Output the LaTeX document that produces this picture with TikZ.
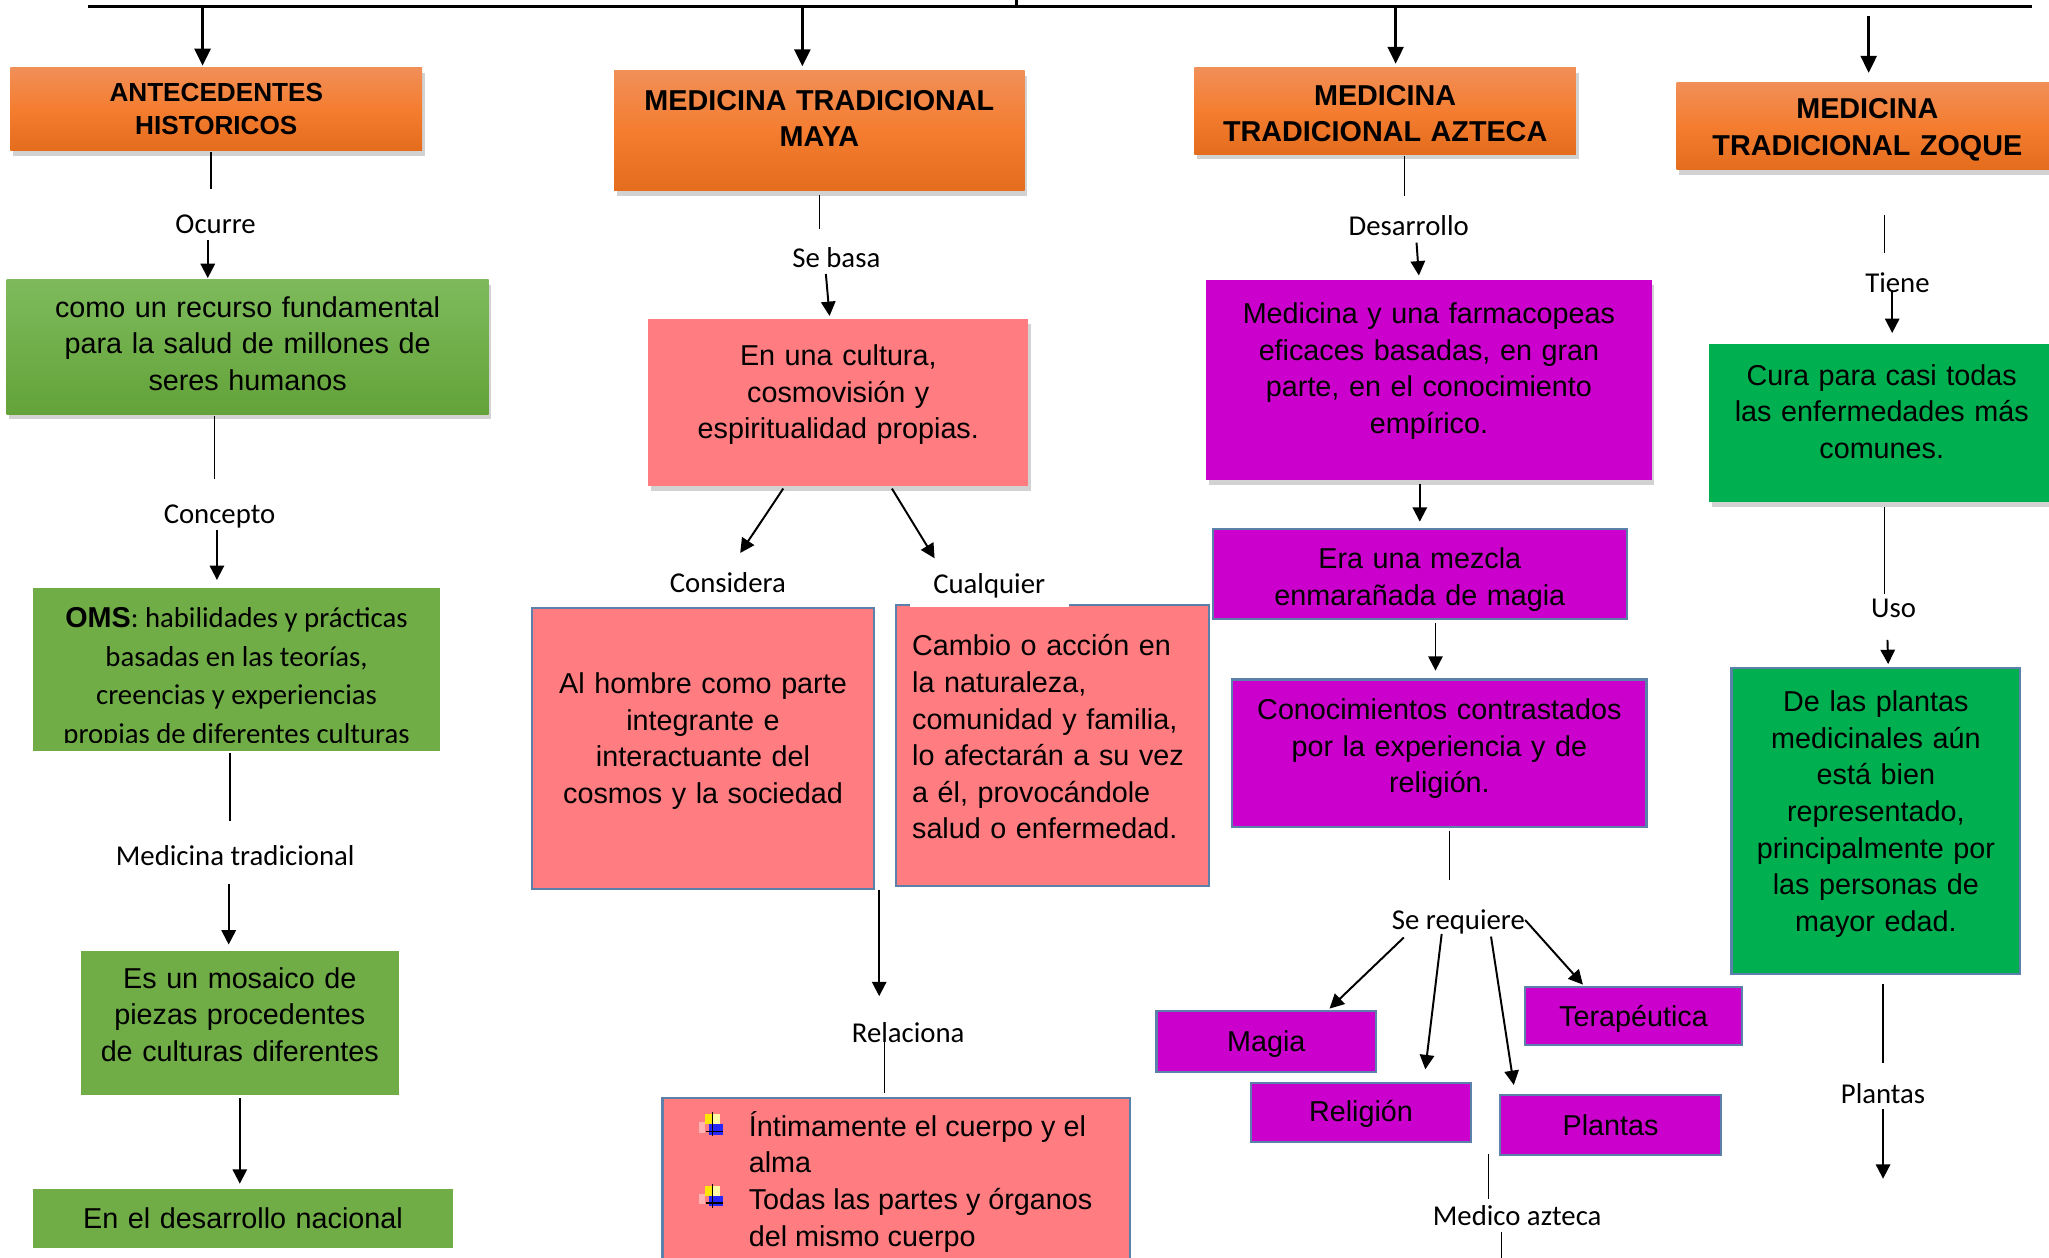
\documentclass[tikz,border=0pt]{standalone}
\usepackage{fontspec}
\setmainfont{Liberation Sans}
\newfontfamily\calibri{Carlito}
\usepackage{array}
\usetikzlibrary{arrows.meta,shadows}

\definecolor{naranjaA}{HTML}{F18F58}
\definecolor{naranjaB}{HTML}{F47D30}
\definecolor{naranjaC}{HTML}{E46C1D}
\definecolor{verdeA}{HTML}{7EBA5C}
\definecolor{verdeB}{HTML}{63A339}
\definecolor{verde}{HTML}{70AD47}
\definecolor{verdeZ}{HTML}{00B050}
\definecolor{rosa}{HTML}{FF7C80}
\definecolor{morado}{HTML}{CC00CC}
\definecolor{azulB}{HTML}{5B80AA}

\tikzset{
	vineta/.pic={
		\fill[red!30!white] (0,7.5) rectangle (4.5,15.5);
		\fill[yellow!90!orange] (4.5,1.5) rectangle (10,9);
		\fill[yellow!35] (10,1.5) rectangle (15.5,9);
		\fill[blue!85!white] (7,9) rectangle (18,17);
		\draw[line width=1.1pt] (10,0) -- (10,18) (5,14.5) -- (18,14.5);
	}
}

\begin{document}
\begin{tikzpicture}[x=1pt, y=-1pt,
	caja/.style={rectangle, inner sep=0pt, align=center, font=\fontsize{22}{28}\selectfont},
	sombra/.style={drop shadow={shadow xshift=2pt, shadow yshift=-4pt, opacity=0.35}},
	titulo/.style={caja, sombra, top color=naranjaA, bottom color=naranjaC, middle color=naranjaB,
		font=\bfseries\fontsize{22}{28}\selectfont},
	borde/.style={draw=azulB, line width=1.6pt},
	etiqueta/.style={font=\calibri\fontsize{22}{26}\selectfont, inner sep=0pt, text height=16pt, text depth=5pt},
	flecha/.style={-{Triangle[length=11pt,width=11pt]}, line width=1.5pt},
	flechaG/.style={-{Triangle[length=13pt,width=12pt]}, line width=2.5pt},
	linea/.style={line width=0.9pt},
	lift/.style={execute at end node={\endgraf\vspace*{#1}}}
	]
	\useasboundingbox (0,0) rectangle (1568,962);
	\clip (0,0) rectangle (1568,962);
	\fill[white] (0,0) rectangle (1568,962);

	% barra superior
	\coordinate (tIzq) at (67,5);
	\coordinate (tDer) at (1555,5);
	\coordinate (tMed) at (778,5);
	\coordinate (tSup) at (778,0);
	\draw[line width=3pt] (tIzq) -- (tDer);
	\draw[line width=2pt] (tMed) -- (tSup);

	% titulos
	\node[titulo, font=\bfseries\fontsize{20}{25}\selectfont, minimum width=315pt, minimum height=63pt, text width=305pt] (hAnte) at (165.5,83.5) {ANTECEDENTES\\HISTORICOS};
	\node[titulo, minimum width=314pt, minimum height=92pt, text width=304pt, lift=19pt] (hMaya) at (627,100) {MEDICINA TRADICIONAL\\MAYA};
	\node[titulo, minimum width=292pt, minimum height=66pt, text width=282pt, lift=-4pt] (hAzt) at (1060,85) {MEDICINA\\TRADICIONAL AZTECA};
	\node[titulo, minimum width=292pt, minimum height=67pt, text width=282pt, lift=-6pt] (hZoq) at (1429,96.5) {MEDICINA\\TRADICIONAL ZOQUE};

	\coordinate (t1) at (155,5);
	\coordinate (t2) at (614,5);
	\coordinate (t3) at (1068,5);
	\coordinate (t4) at (1430,12);
	\draw[flechaG, shorten >=1.5pt] (t1) -- (t1 |- hAnte.north);
	\draw[flechaG, shorten >=3pt] (t2) -- (t2 |- hMaya.north);
	\draw[flechaG, shorten >=3pt] (t3) -- (t3 |- hAzt.north);
	\draw[flechaG, shorten >=7pt] (t4) -- (t4 |- hZoq.north);

	% columna antecedentes
	\node[caja, sombra, top color=verdeA, bottom color=verdeB, minimum width=369pt, minimum height=103pt, text width=359pt, lift=5pt] (gRec) at (189.5,265.5) {como un recurso fundamental\\para la salud de millones de\\seres humanos};
	\node[caja, fill=verde, minimum width=312pt, minimum height=125pt,
		path picture={
			\clip (path picture bounding box.north west) rectangle ([yshift=7pt]path picture bounding box.south east);
			\node[fill=none, draw=none, inner sep=0pt, align=center, font=\calibri\fontsize{22}{29.5}\selectfont]
			at ([yshift=-6pt]path picture bounding box.center) {{\rmfamily\bfseries OMS}: habilidades y prácticas\\basadas en las teorías,\\creencias y experiencias\\propias de diferentes culturas};}] (gOms) at (181,512.5) {};
	\node[caja, fill=verde, minimum width=243pt, minimum height=110pt, text width=235pt, lift=13pt] (gMos) at (183.5,783) {Es un mosaico de\\piezas procedentes\\de culturas diferentes};
	\node[caja, fill=verde, minimum width=322pt, minimum height=45pt, text width=312pt] (gNac) at (186,932.5) {En el desarrollo nacional};

	\node[etiqueta] (lOcurre) at (165,173) {Ocurre};
	\node[etiqueta] (lConcepto) at (168,395) {Concepto};
	\node[etiqueta] (lMedTrad) at (180,657) {Medicina tradicional};

	\draw[linea, shorten <=1pt, shorten >=18pt] ([xshift=-4pt]hAnte.south) -- ([xshift=-4pt]hAnte.south |- lOcurre.north);
	\draw[flecha, shorten >=1pt] ([xshift=-6pt]lOcurre.south) -- ([xshift=-6pt]lOcurre.south |- gRec.north);
	\draw[linea, shorten <=1pt, shorten >=18pt] ([xshift=-4pt]lConcepto.north |- gRec.south) -- ([xshift=-4pt]lConcepto.north);
	\draw[flecha, shorten >=6pt] ([xshift=-2pt]lConcepto.south) -- ([xshift=-2pt]lConcepto.south |- gOms.north);
	\draw[linea, shorten <=1pt, shorten >=18pt] ([xshift=-4pt]lMedTrad.north |- gOms.south) -- ([xshift=-4pt]lMedTrad.north);
	\draw[flecha, shorten <=9pt, shorten >=5pt] ([xshift=-5pt]lMedTrad.south) -- ([xshift=-5pt]lMedTrad.south |- gMos.north);
	\draw[flecha, shorten <=2pt, shorten >=4pt] (gMos.south) -- (gMos.south |- gNac.north);

	% columna maya
	\node[caja, sombra, fill=rosa, minimum width=291pt, minimum height=128pt, text width=281pt, lift=12pt] (pCult) at (641.5,308) {En una cultura,\\cosmovisión y\\espiritualidad propias.};
	\node[caja, fill=rosa, borde, minimum width=262pt, minimum height=215pt, text width=252pt, lift=11pt] (pHom) at (538,572.5) {Al hombre como parte\\integrante e\\interactuante del\\cosmos y la sociedad};
	\node[caja, fill=rosa, borde, align=left, minimum width=239pt, minimum height=215pt, text width=215pt, lift=13pt] (pCamb) at (805.5,570.5) {Cambio o acción en\\la naturaleza,\\comunidad y familia,\\lo afectarán a su vez\\a él, provocándole\\salud o enfermedad.};
	\node[rectangle, inner sep=0pt, fill=rosa, borde, font=\fontsize{22}{28}\selectfont, minimum width=358pt, minimum height=132pt] (pCuer) at (686,906)
		{\begin{tabular}{@{\hspace{54pt}}>{\raggedright\arraybackslash}p{280pt}@{}}Íntimamente el cuerpo y el alma\\Todas las partes y órganos del mismo cuerpo\end{tabular}};
	\pic at ([shift={(29,12)}]pCuer.north west) {vineta};
	\pic at ([shift={(29,67)}]pCuer.north west) {vineta};

	\node[etiqueta] (lBasa) at (640,199) {Se basa};
	\node[etiqueta] (lConsidera) at (557,448) {Considera};
	\node[etiqueta, fill=white, inner xsep=18pt, inner ysep=0pt, text depth=10pt] (lCual) at (757,451.5) {Cualquier};
	\node[etiqueta] (lRel) at (695,792) {Relaciona};

	\draw[linea, shorten <=3pt, shorten >=13pt] (hMaya.south) -- (hMaya.south |- lBasa.north);
	\draw[flecha, shorten >=2pt] ([xshift=-8pt]lBasa.south) -- ([xshift=-5pt]lBasa.south |- pCult.north);
	\draw[flecha, shorten <=2pt, shorten >=17pt] ([xshift=-41pt]pCult.south) -- (lConsidera.north);
	\draw[flecha, shorten <=2pt, shorten >=13pt] ([xshift=40pt]pCult.south) -- ([xshift=-35pt]lCual.north);
	\draw[flecha, shorten >=19pt] ([xshift=3pt]pHom.south east) -- ([xshift=3pt]pHom.south east |- lRel.north);
	\draw[linea, shorten >=3pt] ([xshift=-18pt]lRel.center) -- ([xshift=-18pt]lRel.center |- pCuer.north);

	% columna azteca
	\node[caja, sombra, fill=morado, minimum width=341pt, minimum height=153pt, text width=331pt, lift=13pt] (mFarm) at (1093.5,290.5) {Medicina y una farmacopeas\\eficaces basadas, en gran\\parte, en el conocimiento\\empírico.};
	\node[caja, fill=morado, borde, minimum width=317pt, minimum height=69pt, text width=307pt, lift=-8pt] (mMez) at (1086.5,439.5) {Era una mezcla\\enmarañada de magia};
	\node[caja, fill=morado, borde, minimum width=317pt, minimum height=113pt, text width=307pt, lift=7pt] (mCon) at (1101.5,576.5) {Conocimientos contrastados\\por la experiencia y de\\religión.};
	\node[caja, fill=morado, borde, minimum width=168pt, minimum height=46pt, text width=160pt, lift=-4pt] (mMag) at (969,797) {Magia};
	\node[caja, fill=morado, borde, minimum width=169pt, minimum height=45pt, text width=160pt, lift=-2pt] (mRel) at (1041.5,851.5) {Religión};
	\node[caja, fill=morado, borde, minimum width=166pt, minimum height=45pt, text width=160pt, lift=-4pt] (mTer) at (1250,777.5) {Terapéutica};
	\node[caja, fill=morado, borde, minimum width=169pt, minimum height=46pt, text width=160pt] (mPla) at (1232.5,861) {Plantas};

	\node[etiqueta] (lDes) at (1078,175) {Desarrollo};
	\node[etiqueta] (lReq) at (1116,706) {Se requiere};
	\node[etiqueta] (lMed) at (1161,932) {Medico azteca};
	\coordinate (abajo) at (0,965);

	\draw[linea, shorten <=1pt, shorten >=14pt] ([xshift=14.5pt]hAzt.south) -- ([xshift=14.5pt]hAzt.south |- lDes.north);
	\draw[flecha, shorten >=3pt] ([xshift=6pt]lDes.south) -- ([xshift=8pt]lDes.south |- mFarm.north);
	\draw[flecha, shorten <=3pt, shorten >=5pt] (mMez.north |- mFarm.south) -- (mMez.north);
	\draw[flecha, shorten <=2pt, shorten >=6pt] ([xshift=-3pt]mCon.north |- mMez.south) -- ([xshift=-3pt]mCon.north);
	\draw[linea, shorten <=2pt, shorten >=22pt] ([xshift=-7pt]lReq.north |- mCon.south) -- ([xshift=-7pt]lReq.north);
	\draw[flecha, shorten <=1pt, shorten >=2pt] ([xshift=-41pt]lReq.south) -- ([xshift=47pt]mMag.north);
	\draw[flecha, shorten <=-2pt, shorten >=10pt] ([xshift=-13pt]lReq.south) -- ([xshift=48pt]mRel.north);
	\draw[flecha, shorten >=7pt] ([xshift=25pt]lReq.south) -- ([xshift=-73pt]mPla.north);
	\draw[flecha, shorten >=1pt] ([yshift=2pt]lReq.east) -- ([xshift=-38pt]mTer.north);
	\draw[linea, shorten <=-2pt, shorten >=4pt] ([xshift=-22pt]lMed.north |- mPla.south) -- ([xshift=-22pt]lMed.north);
	\draw[line width=1.3pt] ([xshift=-12pt]lMed.south) -- ([xshift=-12pt]lMed.south |- abajo);

	% columna zoque
	\node[caja, sombra, fill=verdeZ, minimum width=264pt, minimum height=121pt, text width=254pt, lift=17pt] (zCura) at (1440,323.5) {Cura para casi todas\\las enfermedades más\\comunes.};
	\node[caja, fill=verdeZ, borde, minimum width=221pt, minimum height=234pt, text width=213pt, lift=10pt] (zPlan) at (1435.5,628) {De las plantas\\medicinales aún\\está bien\\representado,\\principalmente por\\las personas de\\mayor edad.};

	\node[etiqueta] (lTie) at (1452,218) {Tiene};
	\node[etiqueta] (lUso) at (1449,467) {Uso};
	\node[etiqueta] (lZPla) at (1441,839) {Plantas};
	\coordinate (finZ) at (1443,902);

	\draw[linea, shorten <=34pt, shorten >=14pt] ([xshift=-10pt]lTie.north |- hZoq.south) -- ([xshift=-10pt]lTie.north);
	\draw[flecha, shorten >=8pt] ([xshift=-4pt, yshift=-4pt]lTie.center) -- ([xshift=-4pt]lTie.south |- zCura.north);
	\draw[linea, shorten <=4pt, shorten >=2pt] ([xshift=-7pt]lUso.north |- zCura.south) -- ([xshift=-7pt]lUso.north);
	\draw[flecha, shorten <=12pt, shorten >=2pt] ([xshift=-5pt]lUso.south) -- ([xshift=-4pt]lUso.south |- zPlan.north);
	\draw[linea, shorten <=7pt, shorten >=15pt] (lZPla.north |- zPlan.south) -- (lZPla.north);
	\draw[flecha, shorten <=-1pt] (lZPla.south) -- (lZPla.south |- finZ);
\end{tikzpicture}
\end{document}
